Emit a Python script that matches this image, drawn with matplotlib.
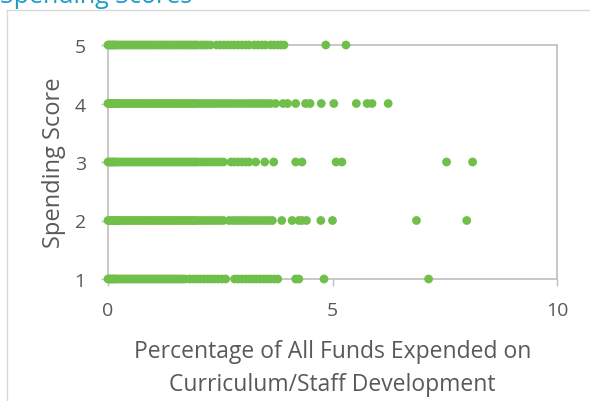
import matplotlib
matplotlib.use("Agg")
import matplotlib.pyplot as plt
from matplotlib.lines import Line2D

plt.rcParams['font.family'] = ['Open Sans', 'DejaVu Sans']

# datos (x = % de fondos, una lista por puntaje)
score_5 = [0.0, 0.03, 0.06, 0.1, 0.13, 0.16, 0.2, 0.25, 0.3, 0.35, 0.4, 0.45, 0.5, 0.55, 0.6,
           0.65, 0.7, 0.75, 0.8, 0.85, 0.9, 0.95, 1.0, 1.05, 1.1, 1.15, 1.2, 1.25, 1.3, 1.35,
           1.4, 1.45, 1.5, 1.55, 1.6, 1.65, 1.7, 1.75, 1.8, 1.85, 1.9, 1.95, 2.0, 2.07, 2.14,
           2.21, 2.28, 2.42, 2.5, 2.58, 2.66, 2.74, 2.82, 2.9, 2.98, 3.06, 3.14, 3.26, 3.34,
           3.42, 3.5, 3.62, 3.7, 3.78, 3.85, 3.92, 4.85, 5.3]
score_4 = [0.0, 0.03, 0.06, 0.1, 0.13, 0.16, 0.2, 0.25, 0.3, 0.35, 0.4, 0.45, 0.5, 0.55, 0.6,
           0.65, 0.7, 0.75, 0.8, 0.85, 0.9, 0.95, 1.0, 1.05, 1.1, 1.15, 1.2, 1.25, 1.3, 1.35,
           1.4, 1.45, 1.5, 1.55, 1.6, 1.65, 1.7, 1.75, 1.8, 1.85, 1.9, 1.95, 2.0, 2.07, 2.14,
           2.21, 2.28, 2.35, 2.42, 2.5, 2.58, 2.66, 2.74, 2.82, 2.9, 2.98, 3.06, 3.14, 3.22,
           3.3, 3.38, 3.46, 3.54, 3.62, 3.73, 3.9, 4.0, 4.18, 4.4, 4.5, 4.75, 5.03, 5.53,
           5.77, 5.88, 6.24]
score_3 = [0.0, 0.03, 0.06, 0.1, 0.13, 0.16, 0.2, 0.25, 0.3, 0.35, 0.4, 0.45, 0.5, 0.55, 0.6,
           0.65, 0.7, 0.75, 0.8, 0.85, 0.9, 0.95, 1.0, 1.05, 1.1, 1.15, 1.2, 1.25, 1.3, 1.35,
           1.4, 1.45, 1.5, 1.55, 1.6, 1.65, 1.7, 1.75, 1.8, 1.85, 1.9, 1.95, 2.0, 2.07, 2.14,
           2.21, 2.28, 2.35, 2.42, 2.5, 2.57, 2.74, 2.82, 2.9, 2.98, 3.06, 3.14, 3.29, 3.49,
           3.69, 4.18, 4.32, 5.08, 5.21, 7.54, 8.12]
score_2 = [0.0, 0.03, 0.06, 0.1, 0.13, 0.16, 0.2, 0.25, 0.3, 0.35, 0.4, 0.45, 0.5, 0.55, 0.6,
           0.65, 0.7, 0.75, 0.8, 0.85, 0.9, 0.95, 1.0, 1.05, 1.1, 1.15, 1.2, 1.25, 1.3, 1.35,
           1.4, 1.45, 1.5, 1.55, 1.6, 1.65, 1.7, 1.75, 1.8, 1.85, 1.9, 1.95, 2.0, 2.07, 2.14,
           2.21, 2.28, 2.35, 2.42, 2.5, 2.57, 2.7, 2.78, 2.86, 2.94, 3.02, 3.1, 3.18, 3.26,
           3.34, 3.42, 3.5, 3.58, 3.66, 3.87, 4.1, 4.25, 4.32, 4.42, 4.74, 5.0, 6.87, 7.99]
score_1 = [0.0, 0.03, 0.06, 0.1, 0.13, 0.16, 0.2, 0.25, 0.3, 0.35, 0.4, 0.45, 0.5, 0.55, 0.6,
           0.65, 0.7, 0.75, 0.8, 0.85, 0.9, 0.95, 1.0, 1.05, 1.1, 1.15, 1.2, 1.25, 1.3, 1.35,
           1.4, 1.45, 1.5, 1.55, 1.6, 1.66, 1.72, 1.82, 1.9, 1.98, 2.06, 2.14, 2.22, 2.3,
           2.38, 2.46, 2.54, 2.62, 2.82, 2.9, 2.98, 3.06, 3.14, 3.22, 3.3, 3.38, 3.46, 3.54,
           3.62, 3.7, 3.78, 4.18, 4.25, 4.81, 7.14]

puntajes = [5, 4, 3, 2, 1]
series = [score_5, score_4, score_3, score_2, score_1]

verde = '#70bf4a'
gris = '#bfbfbf'
texto = '#595959'

fig = plt.figure(figsize=(5.9, 4.02), dpi=100)

# borde del area del grafico (recortado como en la captura)
fig.add_artist(Line2D([7 / 590, 7 / 590], [0, 1 - 11 / 402], transform=fig.transFigure,
                      color='#d9d9d9', lw=1))
fig.add_artist(Line2D([7 / 590, 1], [1 - 11 / 402, 1 - 11 / 402], transform=fig.transFigure,
                      color='#d9d9d9', lw=1))

# titulo cortado arriba
fig.text(0, 1 - 3 / 402, "Spending Scores", color='#1f9bc7', fontsize=18,
         ha='left', va='baseline')

ax = fig.add_axes([108 / 590, 1 - 280 / 402, (557 - 108) / 590, (280 - 46) / 402])

for p, xs in zip(puntajes, series):
    ax.scatter(xs, [p] * len(xs), s=40, color=verde, edgecolors='none', clip_on=False, zorder=3)

ax.set_xlim(0, 10)
ax.set_ylim(1, 5)
ax.set_xticks([0, 5, 10])
ax.set_yticks([1, 2, 3, 4, 5])

for s in ax.spines.values():
    s.set_color(gris)
    s.set_linewidth(1.2)

ax.tick_params(axis='both', colors=gris, labelcolor=texto, labelsize=14, length=5, width=1)
ax.tick_params(axis='x', pad=11)
ax.tick_params(axis='y', pad=11)

ax.set_ylabel("Spending Score", fontsize=17, color=texto, labelpad=6)
ax.set_xlabel("Percentage of All Funds Expended on\nCurriculum/Staff Development",
              fontsize=16.5, color=texto, labelpad=14, linespacing=1.5)

fig.savefig("out.png", dpi=100)
